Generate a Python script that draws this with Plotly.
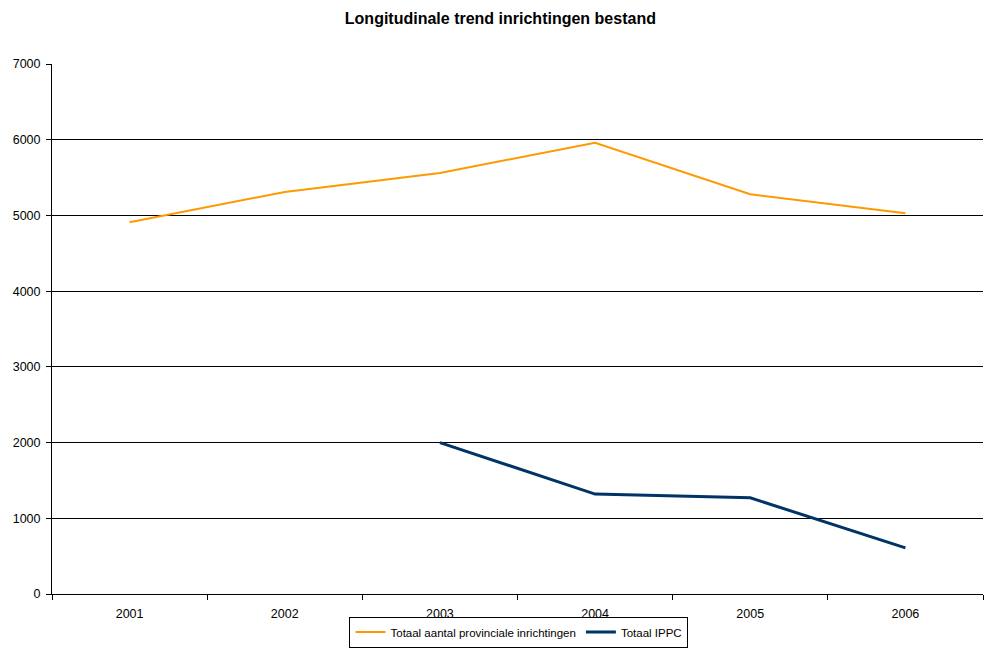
import plotly.graph_objects as go

years = ["2001", "2002", "2003", "2004", "2005", "2006"]
provinciaal = [4910, 5310, 5560, 5960, 5280, 5030]
ippc_years = ["2003", "2004", "2005", "2006"]
ippc = [2000, 1320, 1270, 610]

fig = go.Figure()
fig.add_trace(go.Scatter(
    x=years, y=provinciaal, mode="lines",
    name="Totaal aantal provinciale inrichtingen",
    line=dict(color="#FF9900", width=2),
))
fig.add_trace(go.Scatter(
    x=ippc_years, y=ippc, mode="lines",
    name="Totaal IPPC",
    line=dict(color="#003366", width=3),
))

fig.update_layout(
    width=985, height=648,
    margin=dict(l=52, r=2, t=64, b=54, autoexpand=False),
    paper_bgcolor="white", plot_bgcolor="white",
    font=dict(family="Liberation Sans, Arial, sans-serif", size=12.5, color="black"),
    title=dict(
        text="<b>Longitudinale trend inrichtingen bestand</b>",
        x=0.508, xanchor="center", y=0.972, yanchor="middle",
        font=dict(size=16),
    ),
    legend=dict(
        orientation="h", x=0.5016, xanchor="center", y=-0.101, yanchor="bottom",
        bordercolor="black", borderwidth=1, font=dict(size=11.5),
        itemwidth=30, tracegroupgap=0,
    ),
    showlegend=True,
)
fig.update_xaxes(
    type="category", categoryorder="array", categoryarray=years,
    range=[-0.5, 5.5], tickson="boundaries", ticks="outside", ticklen=5,
    tickcolor="black", showline=True, linecolor="black", linewidth=1,
    showgrid=False, ticklabelstandoff=8,
)
fig.update_yaxes(
    range=[0, 7000], dtick=1000, ticks="outside", ticklen=5, tickcolor="black",
    showline=True, linecolor="black", linewidth=1,
    showgrid=True, gridcolor="black", gridwidth=1, zeroline=False,
    ticklabelstandoff=3,
)

# page margin off so the 985x648 figure fits the window exactly
fig.write_html(
    "out.html",
    config={"displayModeBar": False},
    post_script="document.body.style.margin='0';",
)
